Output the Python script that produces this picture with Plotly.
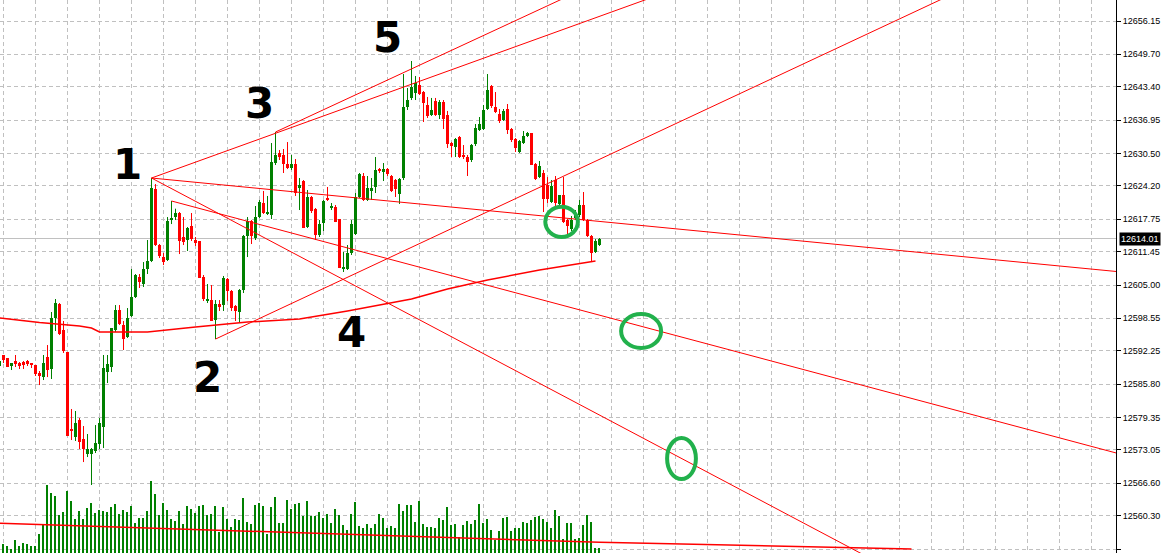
import plotly.graph_objects as go

# ---------------- data ----------------
opens = [
12589.31, 12591.44, 12590.86, 12589.31, 12590.28, 12589.89, 12590.08, 12590.28, 12589.89, 12589.50,
12587.95, 12587.17, 12591.05, 12588.73, 12598.61, 12601.31, 12596.28, 12592.02, 12577.10, 12575.55,
12578.84, 12575.17, 12572.25, 12572.25, 12572.84, 12574.19, 12577.48, 12588.14, 12589.11, 12596.28,
12600.16, 12597.25, 12594.92, 12599.00, 12602.67, 12606.55, 12605.19, 12608.10, 12609.65, 12623.60,
12612.75, 12610.42, 12609.84, 12617.59, 12618.17, 12618.95, 12614.30, 12613.72, 12616.43, 12613.72,
12613.53, 12606.55, 12601.90, 12602.09, 12598.22, 12601.31, 12601.12, 12606.16, 12603.84, 12600.93,
12599.77, 12604.03, 12614.50, 12617.40, 12614.11, 12618.17, 12620.89, 12618.76, 12618.56, 12628.64,
12630.58, 12630.19, 12628.44, 12627.67, 12628.44, 12623.79, 12625.15, 12616.24, 12622.05, 12619.72,
12614.69, 12617.01, 12621.86, 12619.92, 12620.11, 12617.79, 12608.10, 12608.10, 12611.20, 12614.88,
12622.05, 12626.12, 12621.47, 12623.22, 12623.99, 12627.47, 12626.89, 12627.47, 12626.12, 12625.34,
12622.64, 12625.73, 12639.49, 12641.24, 12642.20, 12643.75, 12642.39, 12639.88, 12637.94, 12640.65,
12637.94, 12640.46, 12637.94, 12632.51, 12631.74, 12633.67, 12630.19, 12629.80, 12629.22, 12632.32,
12635.03, 12635.22, 12639.10, 12643.56, 12639.49, 12638.13, 12636.97, 12639.10, 12635.22, 12633.29,
12630.77, 12632.51, 12633.87, 12634.45, 12628.44, 12625.92, 12626.70, 12624.37, 12621.08, 12625.34,
12620.70, 12622.44, 12617.59, 12615.85, 12617.98, 12618.56, 12620.50, 12617.59, 12614.50, 12611.39,
12612.75]

highs = [
12590.67, 12591.44, 12590.86, 12589.89, 12591.44, 12590.08, 12590.28, 12590.47, 12589.89, 12589.50,
12588.34, 12591.44, 12593.37, 12599.77, 12602.29, 12601.51, 12598.03, 12592.02, 12580.98, 12580.59,
12579.23, 12577.68, 12576.13, 12573.42, 12577.87, 12579.23, 12591.44, 12591.44, 12596.67, 12601.12,
12601.12, 12598.03, 12600.54, 12608.10, 12607.13, 12607.13, 12609.45, 12613.72, 12625.73, 12624.56,
12612.94, 12611.20, 12618.17, 12621.28, 12619.79, 12619.14, 12618.17, 12616.24, 12618.95, 12614.30,
12613.53, 12606.94, 12605.19, 12605.00, 12602.09, 12602.09, 12606.75, 12606.36, 12604.03, 12601.12,
12604.22, 12614.69, 12618.17, 12617.59, 12620.31, 12621.47, 12623.22, 12622.25, 12632.51, 12634.64,
12631.16, 12631.35, 12632.70, 12630.19, 12629.41, 12625.73, 12625.34, 12623.41, 12622.25, 12619.92,
12617.59, 12621.47, 12623.99, 12620.89, 12620.50, 12617.79, 12611.39, 12612.75, 12617.59, 12622.83,
12626.70, 12626.70, 12626.12, 12625.73, 12629.80, 12627.67, 12628.64, 12627.67, 12626.31, 12625.54,
12625.73, 12645.88, 12643.17, 12648.40, 12645.50, 12645.30, 12642.59, 12641.43, 12641.24, 12641.24,
12640.84, 12640.84, 12638.72, 12632.70, 12633.48, 12633.87, 12632.12, 12630.19, 12632.32, 12636.19,
12637.55, 12639.88, 12645.88, 12643.75, 12642.39, 12639.10, 12639.10, 12640.07, 12635.42, 12633.48,
12633.09, 12634.84, 12634.64, 12634.45, 12628.64, 12629.03, 12627.28, 12625.92, 12625.34, 12626.12,
12622.44, 12625.92, 12617.79, 12618.37, 12619.53, 12621.47, 12623.02, 12617.79, 12614.69, 12613.91,
12614.11]

lows = [
12588.92, 12589.89, 12589.11, 12588.53, 12589.11, 12588.73, 12588.73, 12589.31, 12588.92, 12587.37,
12585.62, 12586.59, 12587.17, 12586.79, 12596.09, 12595.31, 12591.83, 12575.75, 12574.97, 12574.78,
12573.23, 12570.70, 12571.67, 12566.25, 12572.45, 12573.23, 12573.42, 12586.01, 12588.14, 12595.89,
12597.25, 12592.41, 12594.73, 12598.80, 12602.48, 12604.42, 12604.61, 12607.13, 12609.45, 12612.56,
12610.23, 12608.87, 12609.65, 12616.81, 12617.59, 12611.00, 12612.75, 12611.59, 12613.53, 12612.56,
12606.36, 12601.90, 12601.51, 12598.03, 12594.53, 12599.97, 12599.97, 12601.90, 12599.97, 12598.03,
12597.83, 12603.45, 12610.42, 12612.94, 12613.72, 12617.98, 12618.76, 12618.56, 12617.79, 12628.25,
12629.22, 12626.70, 12627.47, 12627.28, 12622.25, 12619.53, 12616.04, 12616.04, 12618.95, 12613.72,
12614.30, 12615.46, 12621.28, 12619.53, 12617.20, 12608.29, 12607.52, 12607.91, 12610.81, 12614.69,
12621.86, 12621.28, 12621.28, 12621.47, 12622.83, 12626.70, 12625.15, 12626.12, 12623.02, 12622.05,
12620.70, 12625.34, 12638.91, 12640.84, 12640.84, 12641.81, 12636.58, 12637.36, 12637.75, 12637.75,
12637.16, 12635.22, 12631.55, 12629.80, 12629.80, 12629.61, 12629.41, 12626.12, 12628.83, 12631.93,
12634.84, 12635.03, 12638.91, 12639.30, 12638.32, 12636.39, 12636.78, 12634.26, 12632.70, 12630.77,
12630.58, 12632.32, 12633.67, 12628.25, 12625.34, 12625.73, 12619.14, 12620.89, 12620.89, 12620.11,
12620.31, 12617.01, 12614.50, 12615.46, 12617.59, 12618.17, 12617.40, 12614.30, 12609.45, 12611.20,
12612.56]

closes = [
12590.28, 12590.47, 12589.11, 12589.89, 12589.70, 12589.31, 12589.50, 12589.70, 12589.50, 12587.75,
12587.37, 12589.89, 12588.53, 12598.61, 12601.51, 12595.50, 12592.22, 12575.75, 12576.72, 12578.26,
12574.58, 12573.23, 12573.23, 12573.23, 12574.39, 12578.26, 12588.92, 12589.70, 12596.67, 12600.16,
12597.44, 12594.53, 12598.61, 12602.67, 12606.94, 12605.58, 12608.10, 12609.65, 12623.79, 12612.75,
12610.62, 12609.45, 12617.40, 12617.98, 12618.95, 12613.53, 12613.33, 12616.04, 12613.91, 12613.14,
12606.36, 12602.29, 12602.29, 12598.03, 12601.31, 12600.74, 12606.36, 12603.84, 12600.54, 12599.97,
12604.03, 12614.50, 12617.40, 12614.50, 12618.17, 12621.08, 12618.95, 12619.14, 12628.83, 12630.19,
12629.80, 12628.44, 12627.67, 12628.44, 12622.83, 12624.37, 12616.04, 12622.05, 12619.34, 12614.69,
12616.81, 12621.28, 12621.47, 12620.31, 12617.20, 12608.29, 12608.49, 12611.20, 12616.81, 12622.05,
12626.50, 12621.47, 12623.79, 12623.79, 12627.28, 12627.09, 12627.47, 12626.50, 12623.22, 12623.60,
12625.54, 12639.49, 12640.84, 12643.36, 12644.14, 12642.00, 12640.26, 12637.75, 12638.91, 12637.94,
12640.46, 12637.16, 12632.32, 12631.93, 12633.29, 12629.80, 12629.80, 12628.83, 12632.12, 12635.42,
12636.19, 12638.91, 12642.78, 12639.68, 12638.52, 12636.78, 12638.72, 12635.03, 12633.09, 12631.55,
12632.90, 12633.87, 12634.45, 12628.25, 12625.54, 12628.06, 12621.66, 12621.66, 12624.18, 12620.89,
12622.44, 12617.20, 12616.43, 12617.59, 12618.76, 12620.50, 12617.59, 12614.50, 12611.20, 12613.53,
12614.01]

volumes = [
100, 90, 70, 40, 130, 70, 100, 90, 70, 70,
190, 280, 680, 600, 570, 380, 410, 620, 520, 340,
420, 340, 450, 500, 400, 430, 420, 410, 460, 490,
390, 430, 410, 470, 300, 350, 350, 420, 720, 590,
380, 500, 430, 340, 320, 420, 290, 470, 440, 400,
470, 480, 380, 390, 470, 210, 460, 340, 260, 340,
330, 550, 310, 290, 480, 500, 470, 190, 460, 560,
300, 300, 530, 440, 490, 500, 370, 520, 370, 370,
410, 350, 390, 300, 440, 380, 280, 230, 390, 510,
270, 250, 290, 250, 290, 390, 350, 250, 270, 250,
490, 420, 480, 480, 310, 520, 290, 260, 260, 250,
350, 330, 460, 280, 290, 160, 280, 320, 290, 330,
490, 300, 340, 230, 130, 220, 350, 360, 220, 250,
250, 310, 300, 330, 360, 370, 340, 310, 250, 430,
370, 140, 300, 300, 140, 150, 280, 380, 310, 50,
50]

# moving average of price (bar index, price)
ma_x = [0, 10, 20, 23, 25, 37, 49, 62, 75, 87, 103, 112, 122, 135, 149]
ma_y = [12598.61, 12597.73, 12597.05, 12596.67, 12595.89, 12595.89, 12596.86, 12597.83,
        12598.41, 12599.97, 12602.29, 12604.22, 12605.97, 12607.91, 12609.65]

# moving average of volume
vol_ma_x = [0, 150, 228]
vol_ma_y = [297, 107, 40]

# trend lines: (bar0, price0, bar1, price1)
trend_lines = [
    (38, 12625.73, 175.2, 12664.10),
    (69, 12634.64, 150.9, 12664.10),
    (38, 12625.73, 279.2, 12607.62),
    (38, 12625.73, 219.9, 12551.14),
    (43, 12621.28, 279.2, 12572.45),
    (54, 12594.53, 245.8, 12664.10),
]

# wave labels: (text, bar, price)
wave_labels = [("1", 31.9, 12628.44), ("2", 51.9, 12587.17), ("3", 65.1, 12640.26),
               ("4", 88.1, 12595.89), ("5", 97.1, 12652.86)]

# hand-drawn ellipses: (bar0, bar1, price0, price1)
ellipses = [(136.45, 144.6, 12614.30, 12620.17),
            (155.4, 165.4, 12592.80, 12599.38),
            (166.9, 174.1, 12567.41, 12575.36)]

price_ticks = [12656.15, 12649.70, 12643.40, 12636.95, 12630.50, 12624.20, 12617.75, 12611.45,
               12605.00, 12598.55, 12592.25, 12585.80, 12579.35, 12573.05, 12566.60, 12560.30, 12553.85]

# ---------------- figure ----------------
UP = "#008000"
DN = "#ff0000"
n = len(opens)
idx = list(range(n))
inc = [i for i in idx if closes[i] >= opens[i]]
dec = [i for i in idx if closes[i] < opens[i]]

fig = go.Figure()

# volumes (secondary hidden axis at the bottom)
fig.add_trace(go.Bar(x=idx, y=volumes, yaxis="y2", width=0.27,
                     marker=dict(color=UP, line=dict(width=0)), hoverinfo="skip"))
fig.add_trace(go.Scatter(x=vol_ma_x, y=vol_ma_y, yaxis="y2", mode="lines",
                         line=dict(color=DN, width=1.5), hoverinfo="skip"))


def wick(ids):
    xs, ys = [], []
    for i in ids:
        xs += [i, i, None]
        ys += [lows[i], highs[i], None]
    return xs, ys


for ids, col in ((inc, UP), (dec, DN)):
    xs, ys = wick(ids)
    fig.add_trace(go.Scatter(x=xs, y=ys, mode="lines", line=dict(color=col, width=1),
                             hoverinfo="skip"))
    fig.add_trace(go.Bar(x=ids,
                         y=[max(abs(closes[i] - opens[i]), 0.2) for i in ids],
                         base=[min(opens[i], closes[i]) for i in ids],
                         width=0.75, marker=dict(color=col, line=dict(width=0)),
                         hoverinfo="skip"))

# price moving average
fig.add_trace(go.Scatter(x=ma_x, y=ma_y, mode="lines", line=dict(color=DN, width=1.5),
                         hoverinfo="skip"))

# trend lines
for (x0, y0, x1, y1) in trend_lines:
    fig.add_trace(go.Scatter(x=[x0, x1], y=[y0, y1], mode="lines",
                             line=dict(color=DN, width=1), hoverinfo="skip"))

shapes = [dict(type="line", xref="paper", x0=0, x1=1, yref="y",
               y0=closes[-1], y1=closes[-1], line=dict(color="#c0c0c0", width=1),
               layer="below")]
for (a, b, c, d) in ellipses:
    shapes.append(dict(type="circle", xref="x", yref="y", x0=a, x1=b, y0=c, y1=d,
                       line=dict(color="#22b14c", width=4), layer="above"))

annotations = []
for (t, bx, py) in wave_labels:
    annotations.append(dict(x=bx, y=py, xref="x", yref="y", text=f"<b>{t}</b>", showarrow=False,
                            xanchor="center", yanchor="middle",
                            font=dict(family="DejaVu Sans", size=42, color="black")))
annotations.append(dict(x=1, y=closes[-1], xref="paper", yref="y", text=f"{closes[-1]:.2f}",
                        showarrow=False, xanchor="left", yanchor="middle", xshift=3,
                        bgcolor="black", borderpad=1,
                        font=dict(family="Liberation Sans", size=9, color="white")))

fig.update_layout(
    width=1163, height=553,
    margin=dict(l=0, r=47, t=0, b=0),
    plot_bgcolor="white", paper_bgcolor="white",
    showlegend=False, barmode="overlay", bargap=0,
    xaxis=dict(range=[0.125, 279.125], tickvals=list(range(1, 280, 8)),
               showticklabels=False, ticks="", showgrid=True, gridcolor="#c0c0c0",
               griddash="4px,3px", gridwidth=1, zeroline=False, showline=False),
    yaxis=dict(side="right", range=[12553.08, 12660.22], tickvals=price_ticks,
               ticktext=[f"{v:.2f}" for v in price_ticks], showgrid=True,
               gridcolor="#c0c0c0", griddash="4px,3px", gridwidth=1,
               ticks="outside", ticklen=4, tickcolor="black", showline=True,
               linecolor="black", linewidth=1, zeroline=False,
               tickfont=dict(family="Liberation Sans", size=9, color="black")),
    yaxis2=dict(overlaying="y", range=[0, 5530], visible=False),
    shapes=shapes, annotations=annotations,
)

fig.write_html("out.html", config={"displayModeBar": False},
               post_script="document.body.style.margin='0';")
